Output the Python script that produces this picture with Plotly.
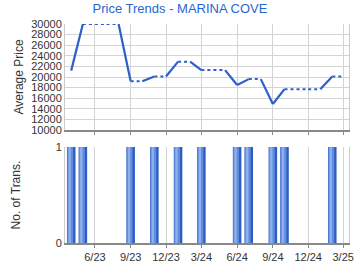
import plotly.graph_objects as go
import pandas as pd

# Data
months = ["2023-04-01", "2023-05-01", "2023-09-01", "2023-11-01", "2024-01-01",
          "2024-03-01", "2024-06-01", "2024-07-01", "2024-09-01", "2024-10-01",
          "2025-02-01"]
prices = [21200, 30000, 19200, 20100, 22900, 21300, 18500, 19600, 14900, 17700, 20100]
trans = [1, 1, 1, 1, 1, 1, 1, 1, 1, 1, 1]
end_month = "2025-03-01"
tick_vals = ["2023-06-01", "2023-09-01", "2023-12-01", "2024-03-01", "2024-06-01",
             "2024-09-01", "2024-12-01", "2025-03-01"]
tick_text = ["6/23", "9/23", "12/23", "3/24", "6/24", "9/24", "12/24", "3/25"]

LINE = "#2c5fcc"
GRID = "#d4d4d4"
TXT = "#333333"
FONT = "Liberation Sans, Arial"

# Build monthly series held forward (gaps held at the previous value)
dts = pd.to_datetime(months)
all_m = pd.date_range(dts[0], pd.to_datetime(end_month), freq="MS")
ser = pd.Series(prices, index=dts).reindex(all_m).ffill()
has = set(dts)

fig = go.Figure()
for i in range(len(all_m) - 1):
    a, b = all_m[i], all_m[i + 1]
    solid = b in has
    fig.add_trace(go.Scatter(
        x=[a, b], y=[ser[a], ser[b]], mode="lines",
        line=dict(color=LINE, width=2.2 if solid else 2,
                  dash="solid" if solid else "dot"),
        showlegend=False, hoverinfo="skip", xaxis="x", yaxis="y"))

day = 24 * 3600 * 1000
fig.add_trace(go.Bar(x=dts, y=trans, width=22 * day, marker=dict(color="#2f5dbf", line=dict(width=0)),
                     showlegend=False, xaxis="x2", yaxis="y2"))
fig.add_trace(go.Bar(x=dts, y=trans, width=15 * day, offset=-10 * day,
                     marker=dict(color="#5f8de0", line=dict(width=0)),
                     showlegend=False, xaxis="x2", yaxis="y2"))
fig.add_trace(go.Bar(x=dts, y=trans, width=6 * day, offset=-7 * day,
                     marker=dict(color="#8fb0ec", line=dict(width=0)),
                     showlegend=False, xaxis="x2", yaxis="y2"))

xr = ["2023-03-16", "2025-03-16"]
common_x = dict(range=xr, type="date", tickvals=tick_vals, ticktext=tick_text,
                showgrid=True, gridcolor=GRID, gridwidth=1, zeroline=False,
                showline=True, linecolor="#888888", linewidth=2,
                tickfont=dict(size=11, color=TXT, family=FONT),
                ticks="outside", ticklen=3, tickcolor="#888888")

fig.update_layout(
    width=360, height=270,
    margin=dict(l=65, r=6, t=24, b=27),
    paper_bgcolor="white", plot_bgcolor="white",
    barmode="overlay",
    title=dict(text="Price Trends - MARINA COVE", x=0.5, xref="container", y=0.985, yanchor="top",
               xanchor="center",
               font=dict(size=13, color="#2766d0", family=FONT)),
    xaxis=dict(**common_x, anchor="y", showticklabels=False),
    xaxis2=dict(**common_x, anchor="y2", matches="x"),
    yaxis=dict(domain=[0.516, 1], range=[10000, 30000], dtick=2000, tickformat="d",
               showgrid=True, gridcolor=GRID, zeroline=False,
               showline=True, linecolor="#cccccc", mirror=True,
               tickfont=dict(size=11, color=TXT, family=FONT),
               title=dict(text="Average Price", standoff=4,
                          font=dict(size=12, color=TXT, family=FONT))),
    yaxis2=dict(domain=[0, 0.438], range=[0, 1], tickvals=[0, 1],
                showgrid=True, gridcolor=GRID, zeroline=False,
                showline=True, linecolor="#cccccc", mirror=True,
                tickfont=dict(size=11, color=TXT, family=FONT),
                title=dict(text="No. of Trans.", standoff=32,
                           font=dict(size=12, color=TXT, family=FONT))),
)

fig.write_html("out.html")
